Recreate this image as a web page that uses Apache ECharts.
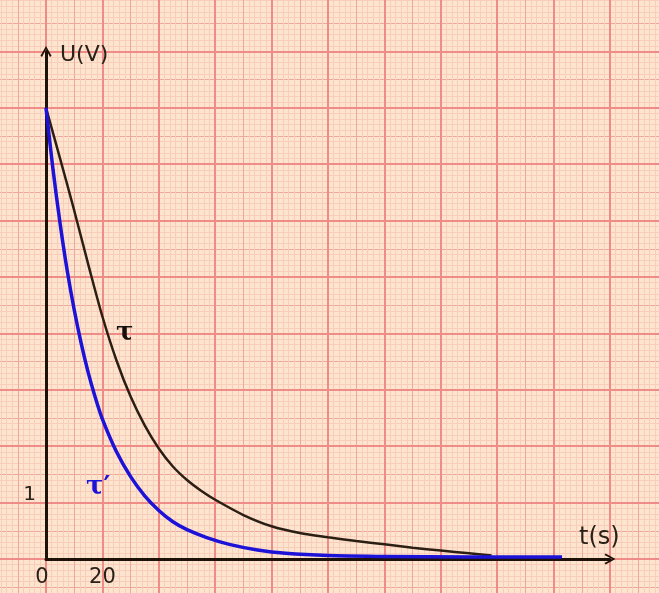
<!doctype html>
<html>
	<head>
		<meta charset="utf-8">
		<title>U(t)</title>
		<style>
			html, body { margin: 0; padding: 0; background: #fde4cf; width: 659px; height: 593px; overflow: hidden; position: relative; }
			/* plus grand que la fenetre pour que le papier millimetre deborde */
			#main { position: absolute; left: -20px; top: -20px; width: 699px; height: 653px; }
		</style>
	</head>
	<body>
		<div id="main"></div>
		<script src="https://cdn.jsdelivr.net/npm/echarts@6/dist/echarts.min.js"></script>
		<script type="text/javascript">
			// courbe tau (noire)
			var tauT = [0, 5, 10, 15, 20, 25, 30, 35, 40, 45, 50, 55, 60, 70, 80, 90, 100, 110, 120, 130, 140, 150, 158];
			var tauU = [8, 7.1, 6.18, 5.22, 4.3, 3.52, 2.88, 2.37, 1.96, 1.64, 1.4, 1.21, 1.05, 0.78, 0.58, 0.46, 0.385, 0.32, 0.26, 0.2, 0.15, 0.1, 0.06];
			// courbe tau' (bleue)
			var tau2T = [0, 2.5, 5, 7.5, 10, 12.5, 15, 17.5, 20, 25, 30, 35, 40, 45, 50, 57, 65, 75, 85, 100, 120, 150, 183];
			var tau2U = [8, 6.9, 5.95, 5.12, 4.42, 3.82, 3.3, 2.86, 2.48, 1.9, 1.46, 1.12, 0.86, 0.66, 0.52, 0.38, 0.26, 0.16, 0.1, 0.06, 0.045, 0.035, 0.035];
			var xTicks = [0, 20];
			var yTicks = [1];

			function pairs(xs, ys) {
				var out = [];
				for (var i = 0; i < xs.length; i++) {
					out.push([xs[i], ys[i]]);
				}
				return out;
			}

			var arrow = 'path://M0,9 L5,0 L10,9 L8.6,10 L5,3 L1.4,10 Z';
			var axisColor = '#1e1208';
			var txtColor = '#2a2118';
			var bgRect = { left: 9.6, right: 12.6, top: 15, bottom: 17.6 };

			var chart = echarts.init(document.getElementById('main'));
			chart.setOption({
				backgroundColor: '#fde4cf',
				animation: false,
				grid: [
					{ left: 66, right: 69, top: 71.4, bottom: 74 },
					bgRect,
					bgRect
				],
				xAxis: [
					{
						type: 'value', gridIndex: 0, min: 0, max: 200, interval: 20, z: 5,
						axisLine: { lineStyle: { color: axisColor, width: 3 }, symbol: ['none', arrow], symbolSize: [11, 12] },
						axisTick: { show: false },
						splitLine: { show: false },
						axisLabel: {
							margin: 8, color: txtColor, fontSize: 21, fontFamily: 'DejaVu Sans',
							formatter: function(v) {
								if (v === 0) return '{z|0}';
								return xTicks.indexOf(v) >= 0 ? String(v) : '';
							},
							rich: { z: { fontSize: 21, fontFamily: 'DejaVu Sans', color: txtColor, padding: [0, 8, 0, 0] } }
						}
					},
					{
						type: 'value', gridIndex: 1, min: -20, max: 220, interval: 10, z: 0,
						axisLine: { show: false }, axisTick: { show: false }, axisLabel: { show: false },
						splitLine: { lineStyle: { color: '#eaa99c', width: 1 } },
						minorTick: { show: false, splitNumber: 5 },
						minorSplitLine: { show: true, lineStyle: { color: '#f8cdb9', width: 1 } }
					},
					{
						type: 'value', gridIndex: 2, min: -20, max: 220, interval: 20, z: 1,
						axisLine: { show: false }, axisTick: { show: false }, axisLabel: { show: false },
						splitLine: { lineStyle: { color: '#f08c88', width: 2 } }
					}
				],
				yAxis: [
					{
						type: 'value', gridIndex: 0, min: 0, max: 9, interval: 1, z: 5,
						axisLine: { lineStyle: { color: axisColor, width: 3 }, symbol: ['none', arrow], symbolSize: [11, 12] },
						axisTick: { show: false },
						splitLine: { show: false },
						axisLabel: {
							margin: 10, color: txtColor, fontSize: 20, fontFamily: 'DejaVu Sans',
							formatter: function(v) {
								return yTicks.indexOf(v) >= 0 ? '{u|' + v + '}' : '';
							},
							rich: { u: { fontSize: 20, fontFamily: 'DejaVu Sans', color: txtColor, padding: [0, 0, 15, 0] } }
						}
					},
					{
						type: 'value', gridIndex: 1, min: -1, max: 10, interval: 0.5, z: 0,
						axisLine: { show: false }, axisTick: { show: false }, axisLabel: { show: false },
						splitLine: { lineStyle: { color: '#eaa99c', width: 1 } },
						minorTick: { show: false, splitNumber: 5 },
						minorSplitLine: { show: true, lineStyle: { color: '#f8cdb9', width: 1 } }
					},
					{
						type: 'value', gridIndex: 2, min: -1, max: 10, interval: 1, z: 1,
						axisLine: { show: false }, axisTick: { show: false }, axisLabel: { show: false },
						splitLine: { lineStyle: { color: '#f08c88', width: 2 } }
					}
				],
				series: [
					{
						name: 'tau',
						type: 'line',
						xAxisIndex: 0, yAxisIndex: 0,
						smooth: 0.3,
						showSymbol: false,
						z: 6,
						lineStyle: { color: '#2b1f14', width: 2.5 },
						data: pairs(tauT, tauU)
					},
					{
						name: "tau'",
						type: 'line',
						xAxisIndex: 0, yAxisIndex: 0,
						smooth: 0.3,
						showSymbol: false,
						z: 7,
						lineStyle: { color: '#1c12d8', width: 3.5 },
						data: pairs(tau2T, tau2U)
					}
				],
				graphic: [
					{ type: 'text', left: 80, top: 64, z: 10, style: { text: 'U(V)', fill: txtColor, font: '22px "DejaVu Sans"' } },
					{ type: 'text', left: 599, top: 546, z: 10, style: { text: 't(s)', fill: txtColor, font: '24px "DejaVu Sans"' } },
					{ type: 'text', left: 136, top: 340, z: 10, style: { text: 'τ', fill: '#15100a', font: 'bold 26px "DejaVu Serif"' } },
					{ type: 'text', left: 106, top: 494, z: 10, style: { text: 'τ\u2032', fill: '#1c12d8', font: 'bold 26px "DejaVu Serif"' } }
				]
			});
		</script>
	</body>
</html>
